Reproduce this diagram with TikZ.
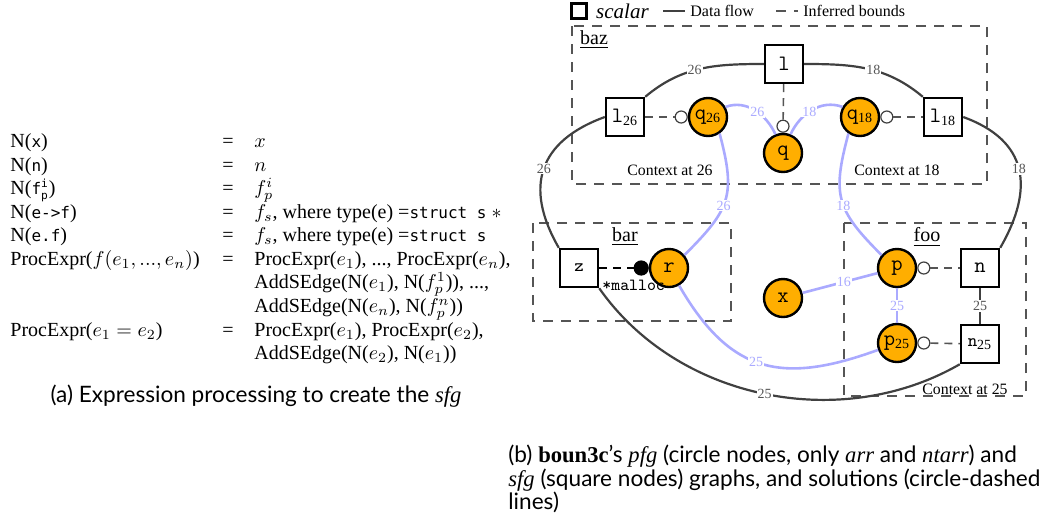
\documentclass[tikz,border=0pt]{standalone}
\usepackage{fontspec}
\setmainfont{Liberation Serif}
\setsansfont{Lato}
\newfontfamily\codefont{DejaVu Sans Mono}[Scale=0.8]
\usetikzlibrary{positioning}

\definecolor{ptrfill}{HTML}{FFAE00}
\definecolor{pflowcol}{HTML}{AAAAFF}
\definecolor{sflowcol}{HTML}{404040}
\definecolor{boundcol}{HTML}{555555}

\tikzset{
  scalar/.style={draw=black, line width=1.2pt, fill=white, minimum size=19pt, inner sep=0pt,
    font=\ttfamily\fontsize{11}{11}\selectfont},
  ptr/.style={circle, draw=black, line width=1.2pt, fill=ptrfill, minimum size=19pt, inner sep=0pt,
    font=\ttfamily\fontsize{11}{11}\selectfont},
  sol/.style={circle, draw=sflowcol, line width=0.6pt, fill=white, minimum size=6pt, inner sep=0pt},
  sflow/.style={draw=sflowcol, line width=1.1pt},
  pflow/.style={draw=pflowcol, line width=1.3pt},
  bound/.style={draw=boundcol, line width=0.8pt, dash pattern=on 4pt off 3pt},
  region/.style={draw=boundcol, line width=0.6pt, dash pattern=on 5pt off 4pt},
  wlabel/.style={fill=white, inner sep=0.5pt, font=\fontsize{7}{7}\selectfont, text=boundcol},
  blabel/.style={wlabel, text=pflowcol},
  ctx/.style={font=\fontsize{7.9}{8}\selectfont, inner sep=0pt},
  fname/.style={font=\fontsize{10}{10}\selectfont, inner sep=0pt},
  legtext/.style={font=\fontsize{8}{8}\selectfont, inner sep=0pt}
}

\begin{document}
\begin{tikzpicture}[x=0.5pt, y=0.5pt]
    \useasboundingbox (0,0) rectangle (1052,-531);

    % (a) the rules
    \node[anchor=north west, inner sep=0pt, font=\fontsize{10}{10.8}\selectfont] (rules) at (10,-131) {%
      \def\arraystretch{1.08}%
      \begin{tabular}{@{}p{106pt}@{}p{16pt}@{}l@{}}
        N({\codefont x}) & = & $x$ \\
        N({\codefont n}) & = & $n$ \\
        N({\codefont f}$^{\mbox{\codefont\scriptsize i}}_{\mbox{\codefont\scriptsize p}}$) & = & $f^i_p$ \\
        N({\codefont e->f}) & = & $f_s$, where type(e) ={\codefont struct s} $*$ \\
        N({\codefont e.f}) & = & $f_s$, where type(e) ={\codefont struct s} \\
        ProcExpr($f(e_1,...,e_n)$) & = & ProcExpr($e_1$), ..., ProcExpr($e_n$), \\
         & & AddSEdge(N($e_1$), N($f^1_p$)), ..., \\
         & & AddSEdge(N($e_n$), N($f^n_p$)) \\
        ProcExpr($e_1 = e_2$) & = & ProcExpr($e_1$), ProcExpr($e_2$), \\
         & & AddSEdge(N($e_2$), N($e_1$))
      \end{tabular}};
    \node[font=\sffamily\fontsize{11.3}{11.75}\selectfont] (capa) at (256,-396)
      {(a) Expression processing to create the {\rmfamily\itshape sfg}};

    % legend
    \node[scalar, minimum size=7.5pt, line width=1.3pt] (leg-sq) at (579,-11) {};
    \node[legtext, font=\itshape\fontsize{10.5}{10.5}\selectfont, right=4pt of leg-sq] (leg-scalar) {scalar};
    \coordinate (leg-f1) at (663,-11);
    \coordinate (leg-f2) at (685,-11);
    \draw[sflow, line width=0.8pt] (leg-f1) -- (leg-f2);
    \node[legtext, right=2.5pt of leg-f2] (leg-flow) {Data flow};
    \coordinate (leg-b1) at (776,-11);
    \coordinate (leg-b2) at (798,-11);
    \draw[region] (leg-b1) -- (leg-b2);
    \node[legtext, right=2.5pt of leg-b2] (leg-bound) {Inferred bounds};

    % functions
    \draw[region] (572,-26) rectangle (987,-184);
    \draw[region] (533,-223) rectangle (731,-321);
    \draw[region] (844,-223) rectangle (1026,-396);
    \node[fname] (baz) at (594,-40) {\underline{baz}};
    \node[fname] (bar) at (625,-237) {\underline{bar}};
    \node[fname] (foo) at (927,-237) {\underline{foo}};
    \node[ctx] (ctx26) at (670,-170) {Context at 26};
    \node[ctx] (ctx18) at (897,-170) {Context at 18};
    \node[ctx] (ctx25) at (965,-389) {Context at 25};

    % scalar nodes
    \node[scalar] (l) at (784,-64) {l};
    \node[scalar] (l26) at (625,-117) {l$_{\mbox{\rmfamily\scriptsize 26}}$};
    \node[scalar] (l18) at (943,-117) {l$_{\mbox{\rmfamily\scriptsize 18}}$};
    \node[scalar, font=\ttfamily\fontsize{9}{9}\selectfont] (z) at (579,-268) {z};
    \node[scalar] (n) at (980,-268) {n};
    \node[scalar, font=\ttfamily\fontsize{9}{9}\selectfont] (n25) at (980,-344) {n$_{\mbox{\rmfamily\scriptsize 25}}$};

    % pointer nodes
    \node[ptr] (q26) at (708,-117) {q$_{\mbox{\rmfamily\scriptsize 26}}$};
    \node[ptr] (q) at (783,-153) {q};
    \node[ptr] (q18) at (860,-117) {q$_{\mbox{\rmfamily\scriptsize 18}}$};
    \node[ptr] (r) at (669,-268) {r};
    \node[ptr] (x) at (783,-298) {x};
    \node[ptr] (p) at (897,-268) {p};
    \node[ptr] (p25) at (897,-343) {p$_{\mbox{\rmfamily\scriptsize 25}}$};

    % solutions
    \foreach \nd/\dir in {q26/left, q/above, q18/right, p/right, p25/right}
        \node[sol, \dir=0pt of \nd] (\nd-s) {};
    \node[sol, fill=black, draw=black, minimum size=7pt, left=0pt of r] (r-s) {};
    \node[inner sep=0pt, font=\ttfamily\fontsize{8.5}{8.5}\selectfont, anchor=north west] (malloc) at (602,-280) {*malloc};

    % sfg edges
    \draw[sflow] (l26.north east) to[out=40, in=180] node[wlabel, pos=0.45] {26} (l.west);
    \draw[sflow] (l.east) to[out=0, in=140] node[wlabel, pos=0.55] {18} (l18.north west);
    \draw[sflow] (l26.west) to[out=200, in=120, looseness=1.3] node[wlabel, pos=0.5] {26} (z.north west);
    \draw[sflow] (l18.east) to[out=-20, in=60, looseness=1.3] node[wlabel, pos=0.5] {18} (n.north east);
    \draw[sflow] (z.south east) to[out=-55, in=-150, looseness=0.95] node[wlabel, pos=0.5] {25} (n25.south west);
    \draw[sflow] (n) -- node[wlabel] {25} (n25);

    % pfg edges
    \draw[pflow] (q26.30) to[out=20, in=115] node[blabel, pos=0.55] {26} (q.112);
    \draw[pflow] (q18.150) to[out=160, in=65] node[blabel, pos=0.55] {18} (q.68);
    \draw[pflow] (q26.-55) to[out=-75, in=45, looseness=1.3] node[blabel, pos=0.55] {26} (r.40);
    \draw[pflow] (q18.-125) to[out=-105, in=135, looseness=1.3] node[blabel, pos=0.55] {18} (p.140);
    \draw[pflow] (r.-60) to[out=-60, in=200, looseness=1.25] node[blabel, pos=0.47] {25} (p25.200);
    \draw[pflow] (x) -- node[blabel, pos=0.55] {16} (p);
    \draw[pflow] (p) -- node[blabel] {25} (p25);

    % bounds
    \foreach \a/\b in {l26/q26-s, l/q-s, q18-s/l18, p-s/n, p25-s/n25}
        \draw[bound] (\a) -- (\b);
    \draw[bound, draw=black] (z) -- (r-s);

    % (b) caption
    \node[anchor=north west, align=left, inner sep=0pt, font=\sffamily\fontsize{11.3}{11.75}\selectfont] (capb) at (508,-445)
      {(b) {\rmfamily\bfseries boun3c}'s {\rmfamily\itshape pfg} (circle nodes, only {\rmfamily\itshape arr} and {\rmfamily\itshape ntarr}) and\\
       {\rmfamily\itshape sfg} (square nodes) graphs, and solutions (circle-dashed\\
       lines)};
\end{tikzpicture}
\end{document}
